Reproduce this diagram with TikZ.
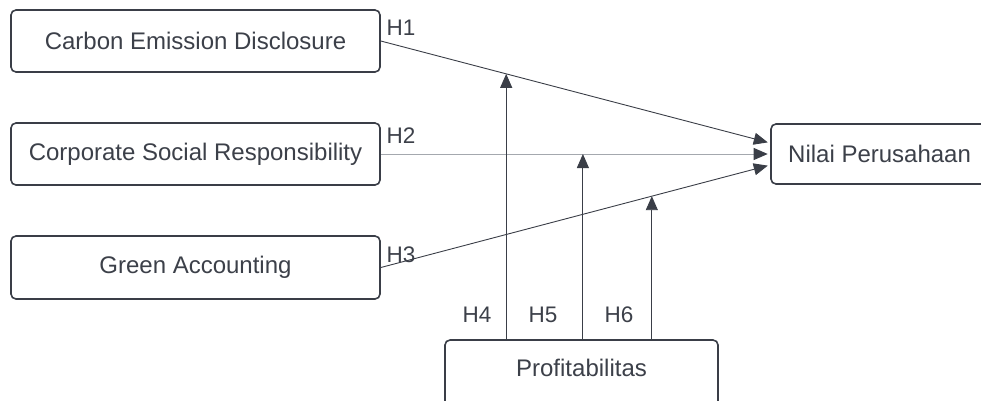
\documentclass[tikz,border=0pt]{standalone}
\usepackage{fontspec}
\setmainfont{Liberation Sans}
\usetikzlibrary{arrows.meta,calc}
\definecolor{ink}{HTML}{3A3E47}
\definecolor{txt}{HTML}{3C4049}
\definecolor{lgray}{HTML}{A4A8AE}
\tikzset{
  box/.style={draw=ink, line width=1.6pt, rounded corners=5pt, fill=white, inner sep=0pt},
  boxtext/.style={text=txt, font=\fontsize{24}{28}\selectfont, inner sep=0pt},
  hlab/.style={text=txt, font=\fontsize{22.5}{27}\selectfont, inner sep=0pt},
  link/.style={draw=ink, line width=0.9pt, -{Triangle[length=14pt,width=12pt,color=ink]}, shorten >=2.5pt},
  modarrow/.style={draw=ink, line width=0.9pt, -{Triangle[length=14pt,width=12pt]}}
}
\begin{document}
\begin{tikzpicture}[x=1pt,y=-1pt]
\useasboundingbox (0,0) rectangle (981,400);
\clip (0,0) rectangle (981,400);
% boxes
\node[box, minimum width=369pt, minimum height=62pt] (ced) at (195.5,41) {};
\node[boxtext] (cedt) at (195.5,41) {Carbon Emission Disclosure};
\node[box, minimum width=369pt, minimum height=62pt] (csr) at (195.5,154) {};
\node[boxtext] (csrt) at (195.5,154) {Corporate Social Responsibility};
\node[box, minimum width=369pt, minimum height=63pt] (ga) at (195.5,267.5) {};
\node[boxtext] (gat) at (195.5,267.5) {Green Accounting};
\node[box, minimum width=230pt, minimum height=60pt] (np) at (886,154) {};
\node[boxtext, anchor=west] (npt) at (788,154) {Nilai Perusahaan};
\node[box, minimum width=273pt, minimum height=70pt] (prof) at (581.5,375) {};
\node[boxtext] (proft) at (581.5,368) {Profitabilitas};
% target points on Nilai Perusahaan
\coordinate (t1) at ([yshift=11pt]np.west);
\coordinate (t2) at (np.west);
\coordinate (t3) at ([yshift=-11pt]np.west);
% main paths
\draw[link] (ced.east) -- coordinate[pos=0.322] (m1) (t1);
\draw[link, draw=lgray] (csr.east) -- coordinate[pos=0.519] (m2) (t2);
\draw[link] (ga.east) -- coordinate[pos=0.696] (m3) (t3);
% moderation arrows
\draw[modarrow] (prof.north -| m1) -- (m1);
\draw[modarrow] (prof.north -| m2) -- (m2);
\draw[modarrow] (prof.north -| m3) -- (m3);
% labels
\node[hlab] (h1) at (401,28) {H1};
\node[hlab] (h2) at (401,136) {H2};
\node[hlab] (h3) at (401,255) {H3};
\node[hlab] (h4) at (477,315) {H4};
\node[hlab] (h5) at (543,315) {H5};
\node[hlab] (h6) at (619,315) {H6};
\end{tikzpicture}
\end{document}
